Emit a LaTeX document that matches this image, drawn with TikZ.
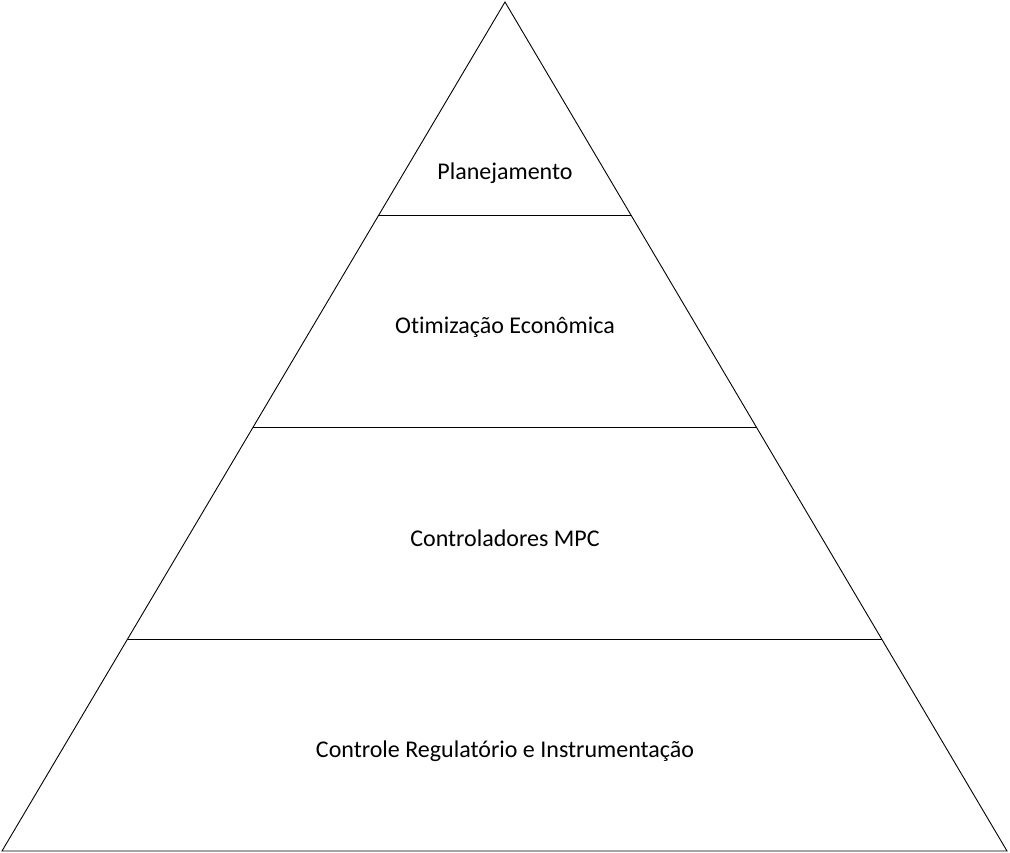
\documentclass[tikz,border=0pt]{standalone}
\usepackage{fontspec}
\setmainfont{Carlito}[Ligatures={NoCommon}]
\usetikzlibrary{calc}
\begin{document}
\begin{tikzpicture}[x=1pt,y=-1pt,line width=0.9pt,
  layer/.style={font=\fontsize{24}{28}\selectfont}]
\useasboundingbox (0,0) rectangle (1010,853);
\coordinate (top) at (505,2);
\coordinate (bl) at (2,851);
\coordinate (br) at (1007,851);
\draw (top) -- (bl) -- (br) -- cycle;
% level separators
\foreach \t/\n in {0.2509/a,0.5006/b,0.7503/c}
  \draw ($(top)!\t!(bl)$) coordinate (l\n) -- ($(top)!\t!(br)$) coordinate (r\n);
\node [layer] (plan) at (505,173) {Planejamento};
\node [layer] (otim) at (505,327) {Otimização Econômica};
\node [layer] (mpc) at (505,538) {Controladores MPC};
\node [layer] (reg) at (505,751) {Controle Regulatório e Instrumentação};
\end{tikzpicture}
\end{document}
